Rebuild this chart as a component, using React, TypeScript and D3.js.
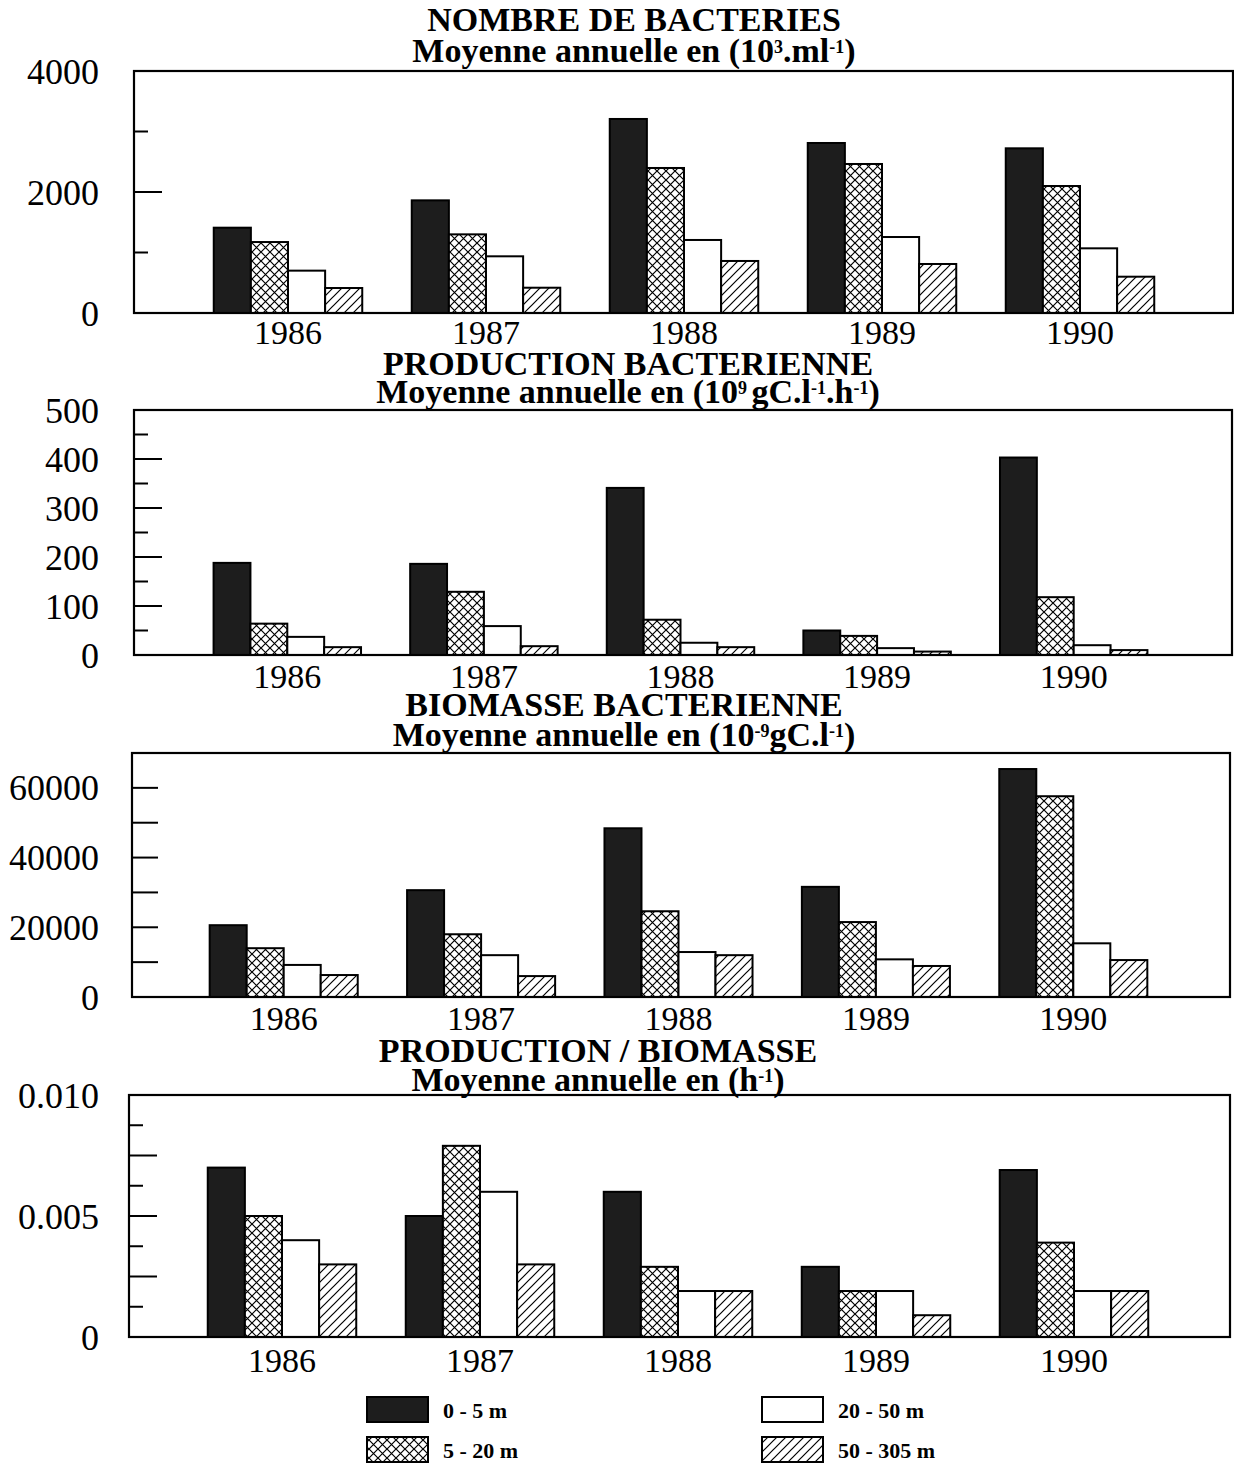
import { scaleBand, scaleLinear, format } from "d3"

const years = ["1986", "1987", "1988", "1989", "1990"]
const depths = ["0 - 5 m", "5 - 20 m", "20 - 50 m", "50 - 305 m"]
const fills = ["#1d1d1d", "url(#cross)", "#ffffff", "url(#hatch)"]

// values per year: [0-5, 5-20, 20-50, 50-305]
const bacteriaCount = [
    [1410, 1173, 700, 413],
    [1862, 1300, 937, 418],
    [3207, 2397, 1207, 860],
    [2810, 2463, 1256, 810],
    [2722, 2099, 1069, 600],
]
const bacteriaProduction = [
    [188, 64, 37, 16],
    [186, 129, 59, 18],
    [341, 72, 25, 16],
    [50, 39, 14, 7],
    [403, 118, 20, 10],
]
const bacteriaBiomass = [
    [20600, 14000, 9200, 6300],
    [30650, 18000, 12000, 6000],
    [48400, 24600, 12900, 12000],
    [31600, 21500, 10800, 8900],
    [65400, 57600, 15400, 10600],
]
const prodOverBiomass = [
    [0.0070, 0.0050, 0.0040, 0.0030],
    [0.0050, 0.0079, 0.0060, 0.0030],
    [0.0060, 0.0029, 0.0019, 0.0019],
    [0.0029, 0.0019, 0.0019, 0.0009],
    [0.0069, 0.0039, 0.0019, 0.0019],
]

const titles = ["NOMBRE DE BACTERIES", "PRODUCTION BACTERIENNE", "BIOMASSE BACTERIENNE", "PRODUCTION / BIOMASSE"]
// [text, superscript?]
const units = [
    [["Moyenne annuelle en (10", false], ["3", true], [".ml", false], ["-1", true], [")", false]],
    [["Moyenne annuelle en (10", false], ["9 ", true], ["gC.l", false], ["-1", true], [".h", false], ["-1", true], [")", false]],
    [["Moyenne annuelle en (10", false], ["-9", true], ["gC.l", false], ["-1", true], [")", false]],
    [["Moyenne annuelle en (h", false], ["-1", true], [")", false]],
]

const yMax = [4000, 500, 70000, 0.010]
const yLabels = [
    [0, 2000, 4000],
    [0, 100, 200, 300, 400, 500],
    [0, 20000, 40000, 60000],
    [0, 0.005, 0.010],
]
const majorTicks = [
    [2000],
    [100, 200, 300, 400],
    [10000, 20000, 30000, 40000, 50000, 60000],
    [0.0025, 0.005, 0.0075],
]
const minorTicks = [
    [1000, 3000],
    [50, 150, 250, 350, 450],
    [],
    [0.00125, 0.00375, 0.00625, 0.00875],
]
const labelFormat = [format("d"), format("d"), format("d"), (v) => (v === 0 ? "0" : format(".3f")(v))]

// pixel layout of each panel
const layout = [
    { left: 134, right: 1233, top: 71, bottom: 313, bandFrom: 189, bandTo: 1179, yearDy: 31, titleX: 634, t1: 31, t2: 62 },
    { left: 134, right: 1232, top: 410, bottom: 655, bandFrom: 189, bandTo: 1172, yearDy: 33, titleX: 628, t1: 375, t2: 403 },
    { left: 132, right: 1230, top: 753, bottom: 997, bandFrom: 185, bandTo: 1172, yearDy: 33, titleX: 624, t1: 716, t2: 746 },
    { left: 129, right: 1230, top: 1095, bottom: 1337, bandFrom: 183, bandTo: 1173, yearDy: 35, titleX: 598, t1: 1062, t2: 1091 },
]
const datasets = [bacteriaCount, bacteriaProduction, bacteriaBiomass, prodOverBiomass]

const serif = "'Liberation Serif', 'DejaVu Serif', serif"

const Panel = ({ i }) => {
    const L = layout[i]
    const data = datasets[i]
    const x = scaleBand().domain(years).range([L.bandFrom, L.bandTo]).paddingInner(0.25).paddingOuter(0.125)
    const inner = scaleBand().domain(depths).range([0, x.bandwidth()])
    const y = scaleLinear().domain([0, yMax[i]]).range([L.bottom, L.top])
    const majorLen = i === 2 ? 26 : 28
    return (
        <g>
            <text x={L.titleX} y={L.t1} textAnchor="middle" fontFamily={serif} fontWeight="bold" fontSize={34}>{titles[i]}</text>
            <text x={L.titleX} y={L.t2} textAnchor="middle" fontFamily={serif} fontWeight="bold" fontSize={34}>
                {units[i].map(([t, sup], k) => {
                    const prevSup = k > 0 && units[i][k - 1][1]
                    return (
                        <tspan key={k} fontSize={sup ? 18 : 34} dy={sup ? -9 : prevSup ? 9 : 0}>{t}</tspan>
                    )
                })}
            </text>
            {years.map((yr, yi) => (
                <g key={yr}>
                    {depths.map((d, di) => (
                        <rect key={d}
                            x={x(yr) + inner(d)}
                            y={y(data[yi][di])}
                            width={inner.bandwidth()}
                            height={L.bottom - y(data[yi][di])}
                            fill={fills[di]}
                            stroke="#000"
                            strokeWidth={2} />
                    ))}
                    <text x={x(yr) + x.bandwidth() / 2} y={L.bottom + L.yearDy} textAnchor="middle" fontFamily={serif} fontSize={34}>{yr}</text>
                </g>
            ))}
            <rect x={L.left} y={L.top} width={L.right - L.left} height={L.bottom - L.top} fill="none" stroke="#000" strokeWidth={2.2} />
            {majorTicks[i].map(v => (
                <line key={"M" + v} x1={L.left} x2={L.left + majorLen} y1={y(v)} y2={y(v)} stroke="#000" strokeWidth={2} />
            ))}
            {minorTicks[i].map(v => (
                <line key={"m" + v} x1={L.left} x2={L.left + 14} y1={y(v)} y2={y(v)} stroke="#000" strokeWidth={2} />
            ))}
            {yLabels[i].map(v => (
                <text key={"l" + v} x={99} y={y(v)} dy="0.35em" textAnchor="end" fontFamily={serif} fontSize={36}>{labelFormat[i](v)}</text>
            ))}
        </g>
    )
}

const legendPos = [
    { x: 367, y: 1397 },
    { x: 367, y: 1437 },
    { x: 762, y: 1397 },
    { x: 762, y: 1437 },
]

export default function App() {
    return (
        <svg width={1234} height={1467} style={{ position: "absolute", left: 0, top: 0, background: "#fff" }}>
            <defs>
                <pattern id="cross" patternUnits="userSpaceOnUse" width={9} height={9}>
                    <rect width={9} height={9} fill="#fff" />
                    <path d="M0,0 L9,9 M9,0 L0,9" stroke="#000" strokeWidth={1.2} />
                </pattern>
                <pattern id="hatch" patternUnits="userSpaceOnUse" width={9} height={9}>
                    <rect width={9} height={9} fill="#fff" />
                    <path d="M0,9 L9,0 M-2,2 L2,-2 M7,11 L11,7" stroke="#000" strokeWidth={1.2} />
                </pattern>
            </defs>
            {layout.map((_, i) => <Panel key={i} i={i} />)}
            {depths.map((d, di) => (
                <g key={d}>
                    <rect x={legendPos[di].x} y={legendPos[di].y} width={61} height={25} fill={fills[di]} stroke="#000" strokeWidth={2} />
                    <text x={legendPos[di].x + 76} y={legendPos[di].y + 21} fontFamily={serif} fontWeight="bold" fontSize={22}>{d}</text>
                </g>
            ))}
        </svg>
    )
}
